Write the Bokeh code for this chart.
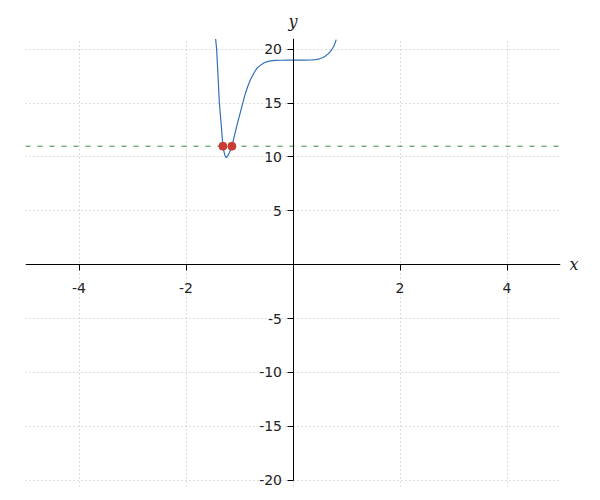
from bokeh.plotting import figure
from bokeh.models import FixedTicker, Range1d, LinearAxis, CustomJSTickFormatter
from bokeh.embed import file_html
from bokeh.resources import INLINE

# Curve values
curve_x = [-1.446, -1.427, -1.40, -1.377, -1.34, -1.31, -1.29, -1.27, -1.246,
           -1.22, -1.19, -1.142, -1.04, -0.937, -0.905, -0.85, -0.794, -0.73,
           -0.669, -0.60, -0.546, -0.48, -0.42, -0.33, -0.234, -0.10, 0.0,
           0.20, 0.35, 0.42, 0.47, 0.514, 0.56, 0.607, 0.655, 0.70, 0.735,
           0.762, 0.787, 0.807]
curve_y = [20.95, 19.97, 17.4, 15.03, 12.9, 11.0, 10.5, 10.1, 9.94,
           10.1, 10.4, 11.0, 13.1, 15.03, 15.65, 16.5, 17.19, 17.8,
           18.27, 18.55, 18.73, 18.85, 18.92, 18.96, 18.98, 19.0, 19.0,
           19.0, 19.02, 19.04, 19.08, 19.14, 19.24, 19.38, 19.57, 19.81, 20.05,
           20.28, 20.57, 20.9]

# Intersection points with the level line
level = 11
hit_x = [-1.31, -1.142]
hit_y = [11, 11]

x_ticks = [-4, -2, 2, 4]
y_ticks = [-20, -15, -10, -5, 5, 10, 15, 20]

p = figure(width=588, height=494, output_backend="svg", toolbar_location=None,
           x_range=Range1d(-5, 5), y_range=Range1d(-20.6, 21),
           min_border_left=25, min_border_right=28,
           min_border_top=38, min_border_bottom=8)
p.outline_line_color = None
p.background_fill_color = "white"

fmt = CustomJSTickFormatter(code="return tick.toString();")
for ax in (p.xaxis, p.yaxis):
    ax.fixed_location = 0
    ax.axis_line_color = "black"
    ax.axis_line_width = 1
    ax.major_tick_line_color = "black"
    ax.major_tick_in = 0
    ax.major_tick_out = 6
    ax.minor_tick_line_color = None
    ax.major_label_text_font = "DejaVu Sans"
    ax.major_label_text_font_size = "14px"
    ax.major_label_text_color = "#222222"
    ax.formatter = fmt

p.xaxis.ticker = FixedTicker(ticks=x_ticks)
p.yaxis.ticker = FixedTicker(ticks=y_ticks)
p.yaxis.bounds = (-20, 21)
p.xaxis.major_label_standoff = 12
p.yaxis.major_label_standoff = 5

p.xgrid.ticker = FixedTicker(ticks=x_ticks + [0])
p.ygrid.ticker = FixedTicker(ticks=y_ticks)
for g in (p.xgrid, p.ygrid):
    g.grid_line_color = "#bdbdbd"
    g.grid_line_dash = "1 3"
    g.grid_line_width = 1

# Axis name labels as single-tick axes
def name_axis(text, standoff):
    a = LinearAxis(ticker=FixedTicker(ticks=[0]), major_label_overrides={0: text},
                   axis_line_color=None, major_tick_line_color=None,
                   minor_tick_line_color=None, major_label_standoff=standoff,
                   major_label_text_font="DejaVu Serif",
                   major_label_text_font_style="italic",
                   major_label_text_font_size="16px",
                   major_label_text_color="#222222")
    a.major_tick_in = 0
    a.major_tick_out = 0
    return a

p.add_layout(name_axis("x", 9), "right")
p.add_layout(name_axis("y", 8), "above")

# Horizontal dashed level line
p.line(x=[-5, 5], y=[level, level], line_color="#338a45", line_dash="5 7", line_width=1)

p.line(x=curve_x, y=curve_y, line_color="#3070b8", line_width=1.2)

p.scatter(x=hit_x, y=hit_y, size=8, fill_color="#cc3b33", line_color="#cc3b33")

open("out.html", "w").write(file_html(p, INLINE))
